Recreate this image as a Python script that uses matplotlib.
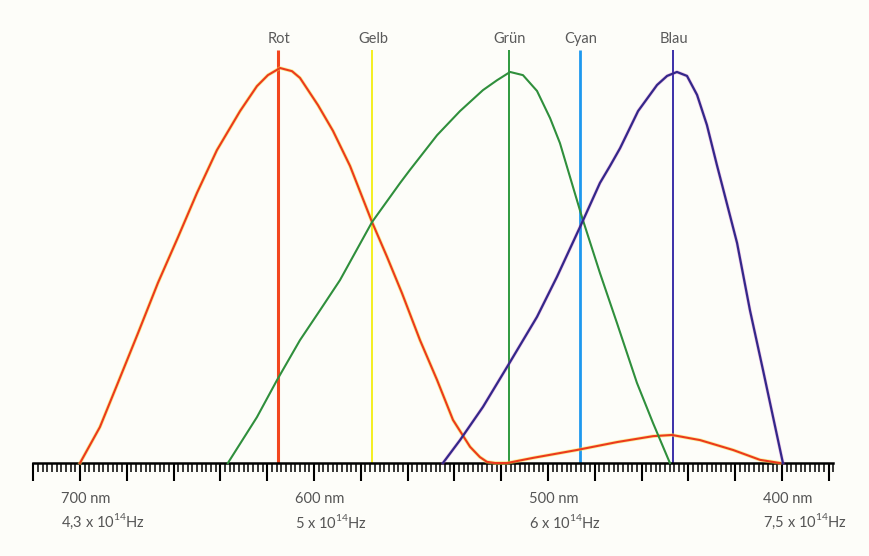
import matplotlib
matplotlib.use("Agg")
import matplotlib.pyplot as plt
import numpy as np

# Spektrale Empfindlichkeit der Zapfen (relativ, %)
rot_nm = [700, 691.5, 683.8, 675.2, 666.7, 658.1, 650, 641.5, 635.9, 631.6, 624.4, 619.7,
          614.5, 609.4, 606, 598.3, 591.9, 584.6, 575.2, 568.8, 562.4, 554.7, 547.4,
          540.6, 533.3, 529.1, 526.1, 522.6, 517.5, 506.4, 487.6, 470.5, 455.1, 447,
          435, 420.9, 409.4, 400.9]
rot_wert = [0, 9.1, 20.3, 32.9, 45.6, 57.2, 68.4, 79.2, 84.8, 89.1, 95.4, 98.2,
            100, 99.2, 97.5, 90.6, 84.1, 75.2, 61.0, 52.2, 43.0, 31.1, 21.0,
            10.9, 4.1, 1.5, 0.3, 0, 0, 1.3, 3.3, 5.3, 6.8, 7.1,
            5.8, 3.3, 0.8, 0]

gruen_nm = [636.8, 624.4, 615.8, 606, 597.4, 588.9, 575.2, 563.2, 559, 547.4, 537.6,
            527.8, 521.8, 516.2, 510.7, 504.7, 499.1, 494.9, 485.5, 477.8, 470.5,
            462, 455.1, 447.9]
gruen_wert = [0, 11.6, 21.0, 31.1, 38.7, 46.3, 61.0, 70.9, 74.2, 83.0, 89.1,
              94.4, 96.9, 99.0, 98.2, 94.2, 87.3, 81.0, 62.3, 48.1, 35.4,
              20.3, 10.1, 0]

blau_nm = [544.9, 537.6, 527.8, 517.5, 504.7, 496.2, 485.5, 477.8, 473.5, 469.2, 461.5,
           453.4, 449.1, 444.9, 440.6, 436.3, 432.1, 427.8, 425.6, 419.2, 413.7,
           408.1, 403.8, 399.6]
blau_wert = [0, 5.8, 14.2, 24.3, 37.0, 47.1, 60.8, 70.9, 75.2, 79.7, 89.1,
             95.7, 98.0, 99.0, 98.0, 93.2, 85.6, 75.4, 70.4, 55.7, 38.7,
             23.5, 11.6, 0]

# Farblinien
farb_namen = ["Rot", "Gelb", "Grün", "Cyan", "Blau"]
farb_nm = [615.4, 575.2, 516.8, 486.5, 446.5]
farb_farben = ["#f2461e", "#f4ee10", "#2e9a3e", "#1e98ee", "#3b2fa8"]
farb_breite = [2.2, 1.3, 1.4, 2.0, 1.4]

# Achsenbeschriftung
achse_nm = [700, 600, 500, 400]
achse_hz = ["4,3 x 10$^{14}$Hz", "5 x 10$^{14}$Hz", "6 x 10$^{14}$Hz", "7,5 x 10$^{14}$Hz"]

plt.rcParams['font.family'] = ['Lato', 'DejaVu Sans']
plt.rcParams['mathtext.fontset'] = 'custom'
plt.rcParams['mathtext.rm'] = 'Lato'

bg = "#fdfdf9"
fig = plt.figure(figsize=(8.7, 5.56), dpi=100, facecolor=bg)
ax = fig.add_axes([0, 0, 1, 1], facecolor=bg)

# Pixelgetreue Skalierung: 2,34 px pro nm, 3,95 px pro %
ax.set_xlim(734.19, 362.39)
ax.set_ylim(-23.54, 117.22)

# Farblinien
for name, nm, c, lw in zip(farb_namen, farb_nm, farb_farben, farb_breite):
    ax.plot([nm, nm], [0, 104.5], color=c, lw=lw, zorder=2, solid_capstyle='butt')
    ax.text(nm - 0.5, 107.3, name, ha='center', va='center', fontsize=10.5, color="#5a5a5a")

# Kurven
ax.plot(rot_nm, rot_wert, color="#f7e24a", lw=2.6, alpha=0.55, zorder=3)
ax.plot(rot_nm, rot_wert, color="#ec3a1c", lw=1.5, zorder=4, solid_joinstyle='round')
ax.plot(gruen_nm, gruen_wert, color="#2f8f3c", lw=1.5, zorder=4, solid_joinstyle='round')
ax.plot(blau_nm, blau_wert, color="#d04cc0", lw=2.5, alpha=0.3, zorder=3)
ax.plot(blau_nm, blau_wert, color="#33288a", lw=1.6, zorder=4, solid_joinstyle='round')

# Lineal-Achse
for s in ['top', 'left', 'right']:
    ax.spines[s].set_visible(False)
ax.spines['bottom'].set_position(('data', 0))
ax.spines['bottom'].set_bounds(720, 378)
ax.spines['bottom'].set_linewidth(1.8)
ax.set_xticks(np.arange(720, 377, -20))
ax.set_xticks(np.arange(720, 377, -2), minor=True)
ax.tick_params(axis='x', which='major', direction='out', length=13, width=1.5,
               labelbottom=False)
ax.tick_params(axis='x', which='minor', direction='out', length=6.5, width=1.1)
ax.set_yticks([])

for nm, hz in zip(achse_nm, achse_hz):
    ax.text(nm + 8, -9.1, f"{nm} nm", ha='left', va='center', fontsize=10.5, color="#555555")
    ax.text(nm + 8, -14.9, hz, ha='left', va='center', fontsize=10.5, color="#555555")

fig.savefig("out.png", dpi=100, facecolor=bg)
